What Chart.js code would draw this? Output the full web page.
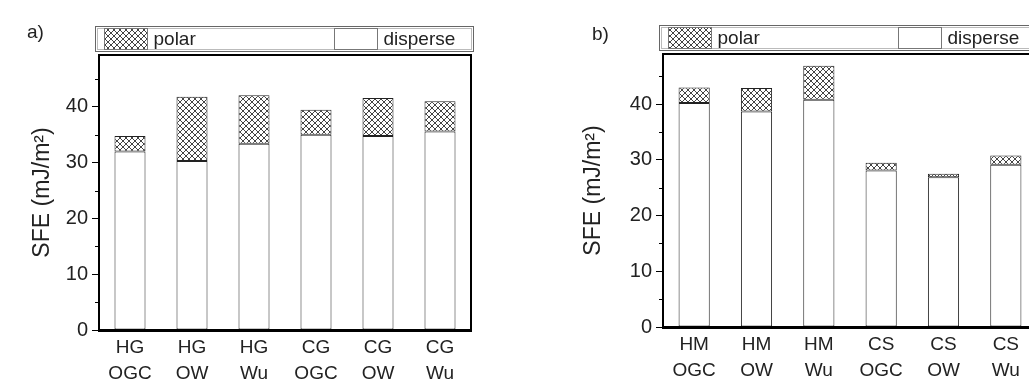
<!DOCTYPE html>
<html>
<head>
<meta charset="utf-8">
<script src="https://cdn.jsdelivr.net/npm/chart.js@4.4.1/dist/chart.umd.min.js"></script>
<style>
    html, body { margin: 0; padding: 0; background: #fff; overflow: hidden; }
    body { width: 1029px; height: 380px; position: relative; }
    #boxA { position: absolute; left: 0; top: 0; width: 514px; height: 380px; }
    #boxB { position: absolute; left: 514px; top: 0; width: 600px; height: 380px; }
</style>
</head>
<body>
<div id="boxA"><canvas id="chartA" width="514" height="380"></canvas></div>
<div id="boxB"><canvas id="chartB" width="600" height="380"></canvas></div>
<script>
// dados
const nomesSeries = ['polar', 'disperse'];

const categoriasA = [['HG', 'OGC'], ['HG', 'OW'], ['HG', 'Wu'], ['CG', 'OGC'], ['CG', 'OW'], ['CG', 'Wu']];
const disperseA = [32.0, 30.3, 33.4, 35.0, 34.8, 35.6];
const polarA = [2.8, 11.5, 8.7, 4.5, 6.8, 5.4];

const categoriasB = [['HM', 'OGC'], ['HM', 'OW'], ['HM', 'Wu'], ['CS', 'OGC'], ['CS', 'OW'], ['CS', 'Wu']];
const disperseB = [40.2, 38.7, 40.8, 28.1, 26.9, 29.1];
const polarB = [2.8, 4.2, 6.1, 1.4, 0.6, 1.7];

const ticksY = [0, 10, 20, 30, 40];
const ticksMenoresY = [5, 15, 25, 35, 45];

const fonte = "'Liberation Sans', Arial, sans-serif";
const corTexto = '#222';

// hachura cruzada
function criaHachura() {
    const c = document.createElement('canvas');
    c.width = 6;
    c.height = 6;
    const g = c.getContext('2d');
    g.fillStyle = '#fff';
    g.fillRect(0, 0, 6, 6);
    g.strokeStyle = '#444';
    g.lineWidth = 1;
    g.beginPath();
    g.moveTo(0, 0); g.lineTo(6, 6);
    g.moveTo(6, 0); g.lineTo(0, 6);
    g.stroke();
    return g.createPattern(c, 'repeat');
}
const hachura = criaHachura();

// moldura, ticks menores, legenda e letra do painel
const decoracao = {
    id: 'decoracao',
    afterDraw(chart, args, opts) {
        const ctx = chart.ctx;
        const ca = chart.chartArea;
        ctx.save();

        ctx.strokeStyle = '#000';
        ctx.lineWidth = 2;
        ctx.strokeRect(ca.left, ca.top, ca.right - ca.left, ca.bottom - ca.top);

        const y = chart.scales.y;
        ctx.lineWidth = 1;
        ticksMenoresY.forEach(v => {
            const py = Math.round(y.getPixelForValue(v)) + 0.5;
            ctx.beginPath();
            ctx.moveTo(ca.left - 4, py);
            ctx.lineTo(ca.left, py);
            ctx.stroke();
        });

        // legenda
        const lx = Math.round(ca.left) - 4 + 0.5;
        const ly = Math.round(ca.top) - 29 + 0.5;
        const lw = 378, lh = 25;
        ctx.strokeStyle = '#666';
        ctx.strokeRect(lx, ly, lw, lh);
        ctx.strokeStyle = '#bbb';
        ctx.strokeRect(lx + 2, ly + 2, lw - 4, lh - 4);

        const posicoes = [9, 239];
        ctx.font = '19px ' + fonte;
        ctx.textBaseline = 'middle';
        nomesSeries.forEach((nome, i) => {
            const ds = chart.data.datasets.find(d => d.label === nome);
            const px = lx + posicoes[i];
            ctx.fillStyle = ds.backgroundColor;
            ctx.fillRect(px, ly + 2, 43, 21);
            ctx.strokeStyle = '#777';
            ctx.strokeRect(px, ly + 2, 43, 21);
            ctx.fillStyle = corTexto;
            ctx.fillText(nome, px + 49, ly + lh / 2 + 1);
        });

        ctx.fillStyle = corTexto;
        ctx.fillText(opts.letra, opts.letraX, opts.letraY);
        ctx.restore();
    }
};

function criaPainel(id, categorias, disperse, polar, maxY, layout) {
    return new Chart(document.getElementById(id), {
        type: 'bar',
        data: {
            labels: categorias,
            datasets: [{
                label: 'disperse',
                data: disperse,
                backgroundColor: '#fff',
                borderColor: '#222',
                borderWidth: 1,
                borderSkipped: false,
                stack: 's'
            }, {
                label: 'polar',
                data: polar,
                backgroundColor: hachura,
                borderColor: '#222',
                borderWidth: 1,
                borderSkipped: false,
                stack: 's'
            }]
        },
        plugins: [decoracao],
        options: {
            responsive: false,
            animation: false,
            layout: { padding: layout.padding },
            categoryPercentage: 1,
            barPercentage: 0.5,
            plugins: {
                legend: { display: false },
                tooltip: { enabled: false },
                decoracao: { letra: layout.letra, letraX: layout.letraX, letraY: layout.letraY }
            },
            scales: {
                x: {
                    stacked: true,
                    grid: { display: false, drawTicks: false },
                    border: { display: true, color: '#000', width: 3 },
                    ticks: {
                        color: corTexto,
                        padding: 5,
                        maxRotation: 0,
                        autoSkip: false,
                        font: { family: fonte, size: 19, lineHeight: 26 / 19 }
                    },
                    afterFit: s => { s.height = layout.alturaX; }
                },
                y: {
                    stacked: true,
                    min: 0,
                    max: maxY,
                    grid: { display: true, drawOnChartArea: false, drawTicks: true, tickLength: 7, color: '#000' },
                    border: { display: true, color: '#000', width: 2 },
                    afterBuildTicks: s => { s.ticks = ticksY.map(v => ({ value: v })); },
                    ticks: {
                        color: corTexto,
                        padding: 4,
                        font: { family: fonte, size: 20 }
                    },
                    title: {
                        display: true,
                        text: 'SFE (mJ/m²)',
                        color: corTexto,
                        padding: { top: 0, bottom: 0 },
                        font: { family: fonte, size: 23 }
                    },
                    afterFit: s => { s.width = layout.larguraY; }
                }
            }
        }
    });
}

criaPainel('chartA', categoriasA, disperseA, polarA, 49.3, {
    padding: { left: 29, top: 55, right: 43, bottom: 0 },
    larguraY: 70,
    alturaX: 50,
    letra: 'a)', letraX: 27, letraY: 33
});

criaPainel('chartB', categoriasB, disperseB, polarB, 49, {
    padding: { left: 66, top: 54, right: 77, bottom: 0 },
    larguraY: 83,
    alturaX: 53,
    letra: 'b)', letraX: 78, letraY: 35
});
</script>
</body>
</html>
